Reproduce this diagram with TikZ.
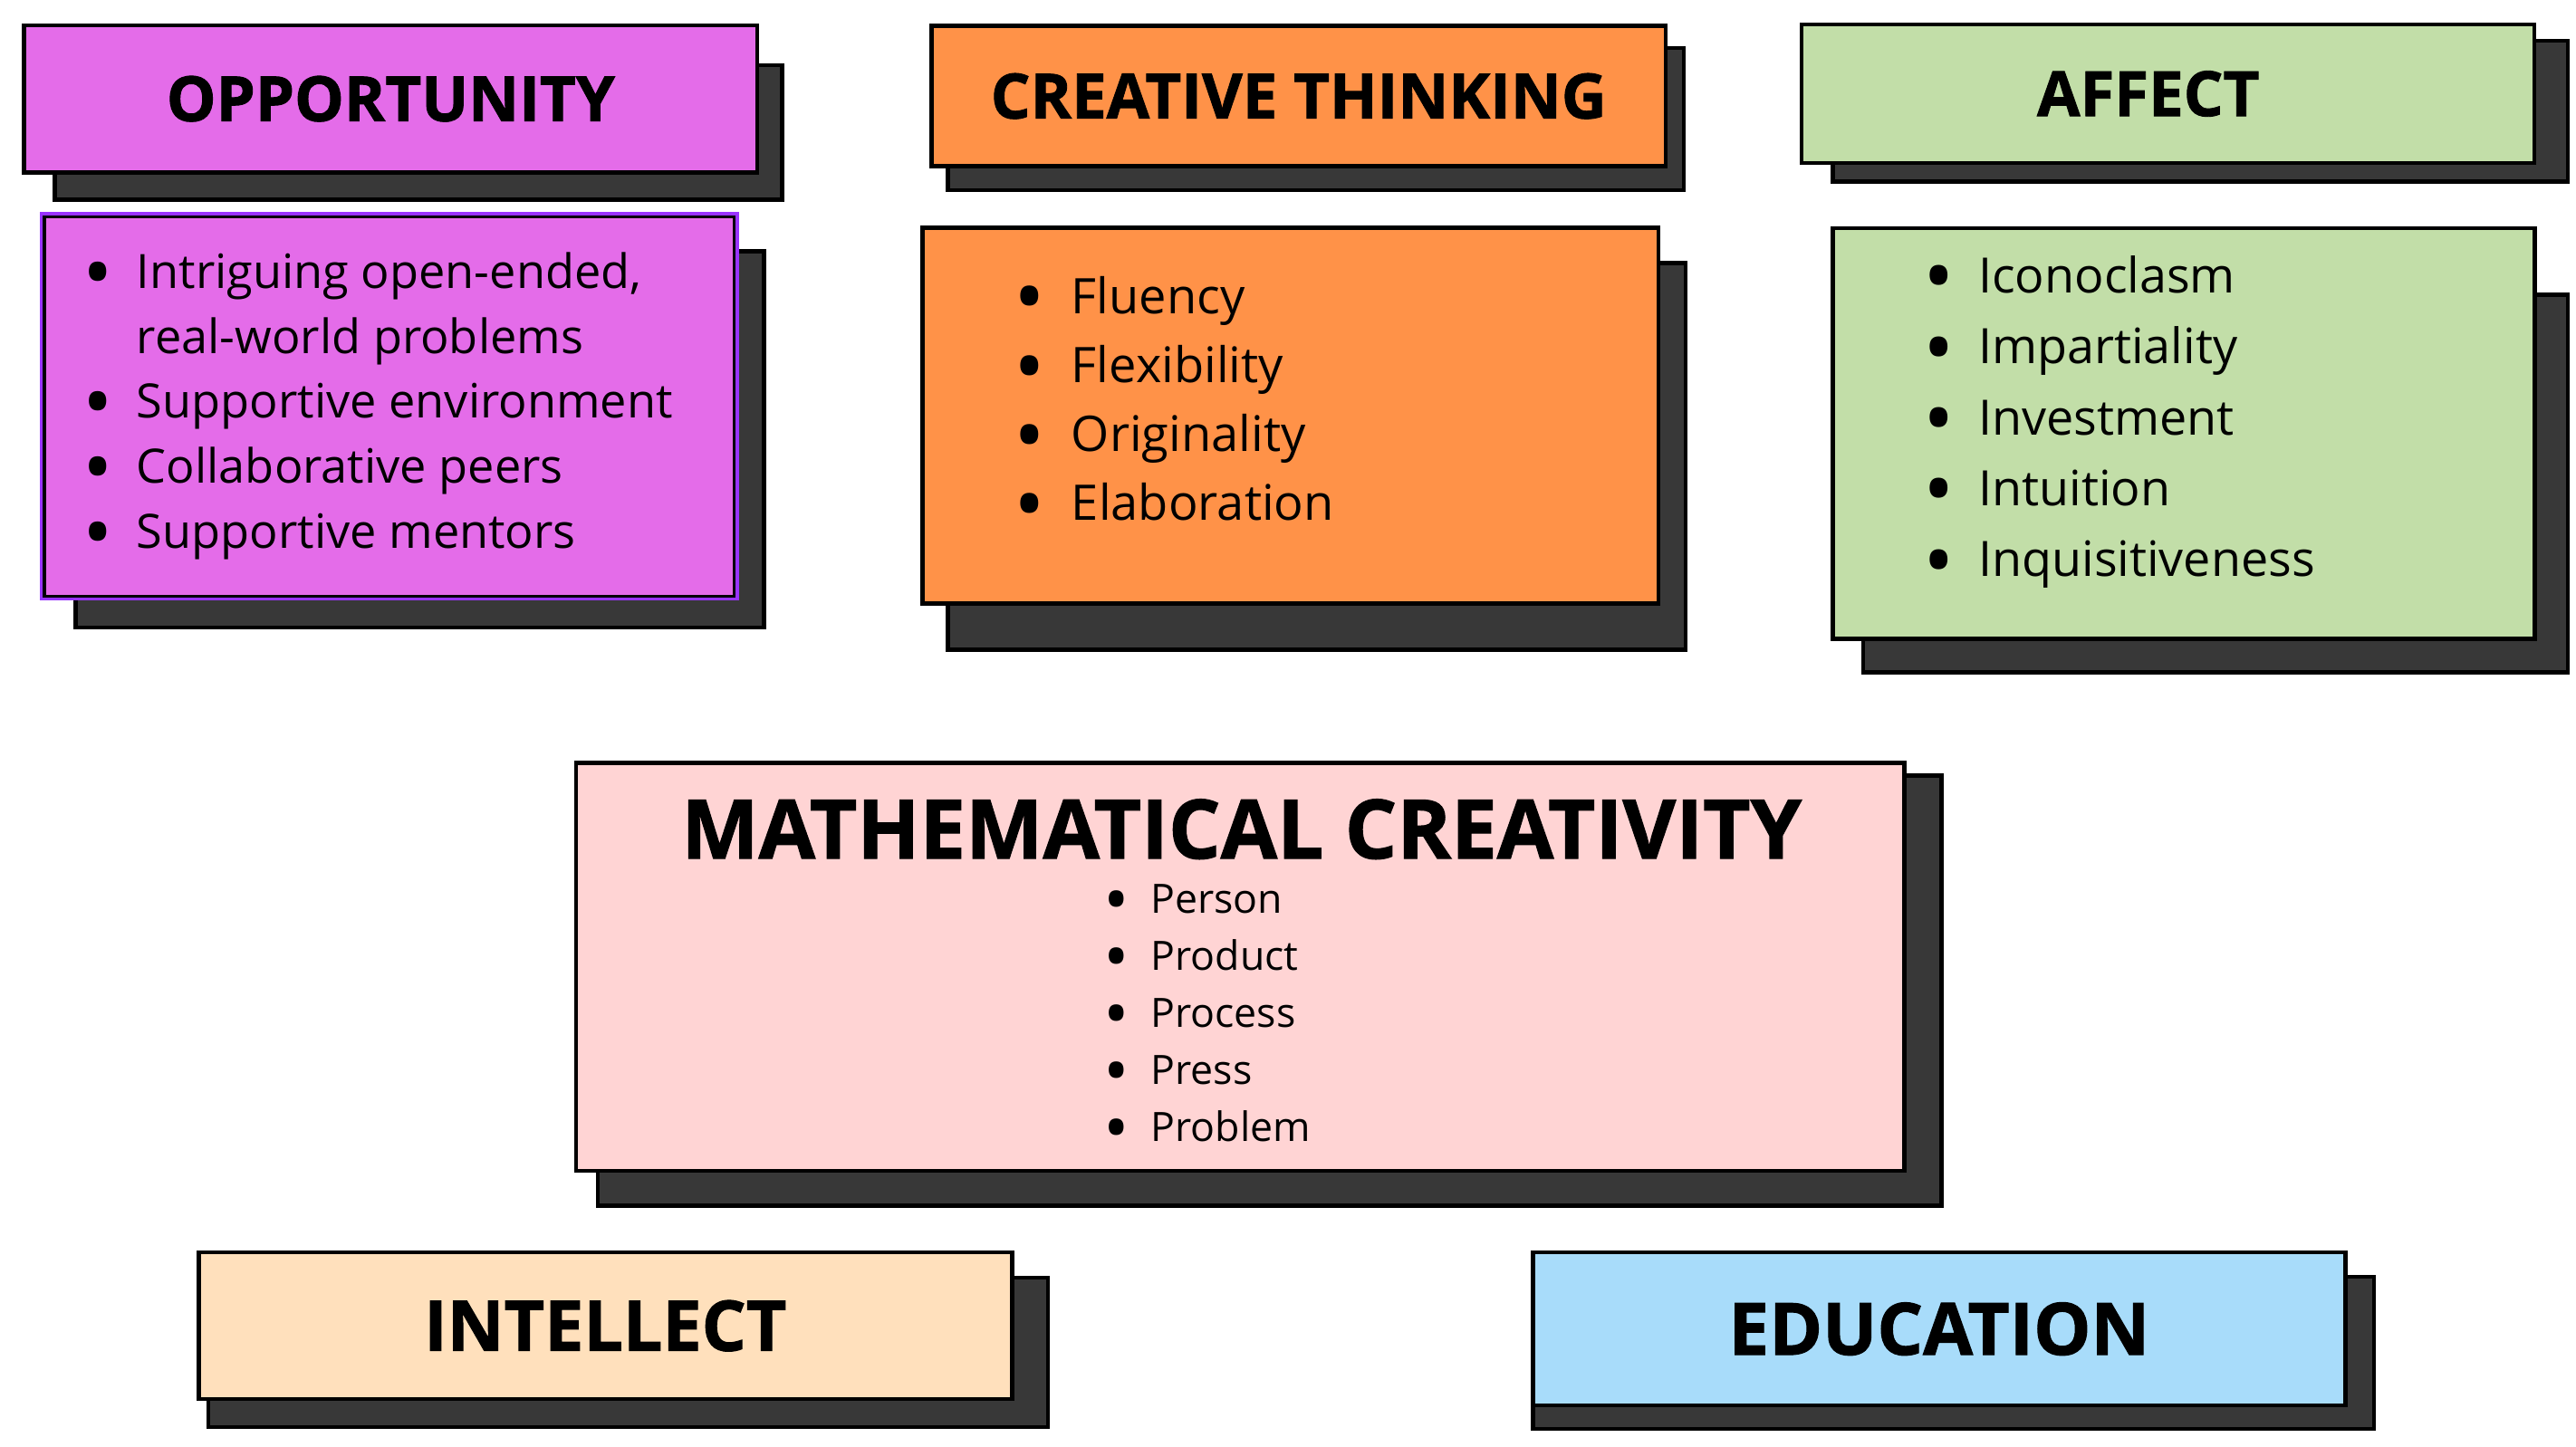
\documentclass[tikz,border=0pt]{standalone}
\usepackage{fontspec}
\setmainfont{Open Sans}[BoldFeatures={FakeBold=1.3}]
\definecolor{oppfill}{HTML}{E46CE9}
\definecolor{oppedge}{HTML}{9933FF}
\definecolor{ctfill}{HTML}{FF9248}
\definecolor{afffill}{HTML}{C2DEA8}
\definecolor{mcfill}{HTML}{FFD4D4}
\definecolor{intfill}{HTML}{FFE0BC}
\definecolor{edufill}{HTML}{A8DCFA}
\definecolor{backgrey}{HTML}{383838}
\newcommand{\blt}[1]{\makebox[#1][l]{\smash{\raisebox{-0.5ex}{\scalebox{1.7}{\textbullet}}}}}

\begin{document}
\begin{tikzpicture}
\tikzset{backshadow/.style={fill=backgrey, draw=black, line width=0.7pt}}
\tikzset{tagbox/.style={draw=black, line width=0.7pt, rectangle, inner sep=0pt, font=\bfseries\fontsize{10.8}{13}\selectfont}}
\tikzset{itembox/.style={draw=black, line width=0.7pt, rectangle, inner sep=0pt}}
\tikzset{itemlist/.style={anchor=base west, inner sep=0pt}}
\useasboundingbox (0,0) rectangle (15.68,8.81);
\fill[white] (0,0) rectangle (15.68,8.81);
\draw[backshadow] (0.334,7.594) rectangle (4.76,8.413);
\draw[backshadow] (0.46,4.99) rectangle (4.65,7.28);
\draw[backshadow] (5.77,7.652) rectangle (10.25,8.517);
\draw[backshadow] (5.77,4.854) rectangle (10.26,7.207);
\draw[backshadow] (11.155,7.704) rectangle (15.63,8.563);
\draw[backshadow] (11.34,4.715) rectangle (15.63,7.016);
\draw[backshadow] (3.64,1.468) rectangle (11.818,4.087);
\draw[backshadow] (1.268,0.12) rectangle (6.38,1.03);
\draw[backshadow] (9.33,0.11) rectangle (14.45,1.036);
\node[tagbox, fill=oppfill, minimum width=4.465cm, minimum height=0.895cm] (Opp) at (2.378,8.208) {OPPORTUNITY};
\node[itembox, fill=oppfill, preaction={draw=oppedge, line width=1.6pt}, line width=0.5pt, minimum width=4.2cm, minimum height=2.31cm] (OppBox) at (2.37,6.335) {};
\node[tagbox, fill=ctfill, minimum width=4.47cm, minimum height=0.855cm] (CT) at (7.905,8.2245) {CREATIVE THINKING};
\node[itembox, fill=ctfill, minimum width=4.48cm, minimum height=2.289cm] (CTBox) at (7.855,6.2785) {};
\node[tagbox, fill=afffill, minimum width=4.46cm, minimum height=0.846cm] (Aff) at (13.196,8.239) {AFFECT\hspace*{0.24cm}};
\node[itembox, fill=afffill, minimum width=4.275cm, minimum height=2.499cm] (AffBox) at (13.2925,6.1705) {};
\node[itembox, fill=mcfill, minimum width=8.086cm, minimum height=2.484cm] (MC) at (7.549,2.922) {};
\node[tagbox, fill=intfill, font=\bfseries\fontsize{12.1}{14}\selectfont, minimum width=4.95cm, minimum height=0.893cm] (Int) at (3.685,0.7375) {INTELLECT};
\node[tagbox, fill=edufill, font=\bfseries\fontsize{12.5}{14}\selectfont, minimum width=4.947cm, minimum height=0.931cm] (Edu) at (11.8035,0.7185) {EDUCATION};
\node[itemlist, font=\fontsize{8.2}{11.25}\selectfont] (OppList) at (0.5,7.055) {\begin{tabular}[t]{@{}l@{}l@{}}
\blt{0.325cm} & Intriguing open-ended,\\
 & real-world problems\\
\blt{0.325cm} & Supportive environment\\
\blt{0.325cm} & Collaborative peers\\
\blt{0.325cm} & Supportive mentors
\end{tabular}};
\node[itemlist, font=\fontsize{8.5}{11.95}\selectfont] (CTList) at (6.165,6.90) {\begin{tabular}[t]{@{}l@{}l@{}}
\blt{0.35cm} & Fluency\\
\blt{0.35cm} & Flexibility\\
\blt{0.35cm} & Originality\\
\blt{0.35cm} & Elaboration
\end{tabular}};
\node[itemlist, font=\fontsize{8.45}{12.28}\selectfont] (AffList) at (11.70,7.026) {\begin{tabular}[t]{@{}l@{}l@{}}
\blt{0.335cm} & Iconoclasm\\
\blt{0.335cm} & Impartiality\\
\blt{0.335cm} & Investment\\
\blt{0.335cm} & Intuition\\
\blt{0.335cm} & Inquisitiveness
\end{tabular}};
\node[anchor=base, inner sep=0pt, font=\bfseries\fontsize{14.2}{17}\selectfont] (MCTitle) at (7.557,3.583) {MATHEMATICAL CREATIVITY};
\node[itemlist, font=\fontsize{7}{9.87}\selectfont] (MCList) at (6.71,3.25) {\begin{tabular}[t]{@{}l@{}l@{}}
\blt{0.288cm} & Person\\
\blt{0.288cm} & Product\\
\blt{0.288cm} & Process\\
\blt{0.288cm} & Press\\
\blt{0.288cm} & Problem
\end{tabular}};
\end{tikzpicture}
\end{document}
